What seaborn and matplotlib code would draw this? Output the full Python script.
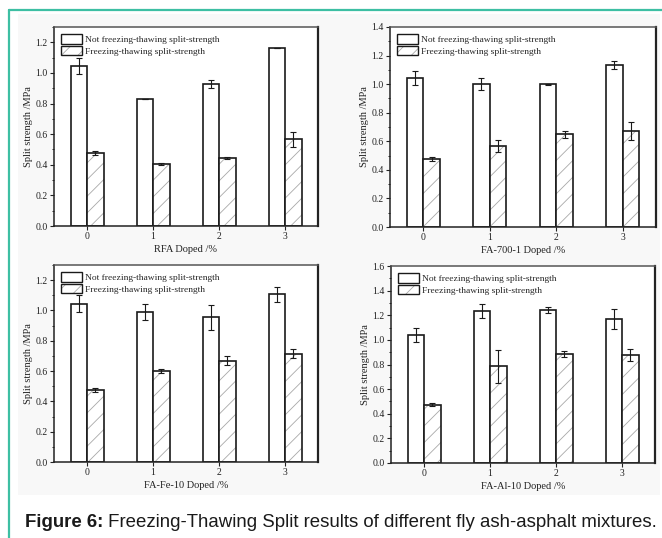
import numpy as np
import pandas as pd
import matplotlib
matplotlib.use("Agg")
import matplotlib.pyplot as plt
import matplotlib.colors as mcolors
from matplotlib.patches import Patch, Rectangle
from matplotlib.lines import Line2D
from matplotlib.ticker import MultipleLocator
from matplotlib.container import BarContainer
import seaborn as sns

# ---------------- data ----------------
doping = ["0", "1", "2", "3"]
series_names = ["Not freezing-thawing split-strength", "Freezing-thawing split-strength"]

xlabels = ["RFA Doped /%", "FA-700-1 Doped /%", "FA-Fe-10 Doped /%", "FA-Al-10 Doped /%"]
ylimits = [1.3, 1.4, 1.3, 1.6]

rfa_not = [1.045, 0.83, 0.928, 1.16]
rfa_not_err = [0.05, 0.0, 0.024, 0.0]
rfa_ft = [0.479, 0.405, 0.446, 0.567]
rfa_ft_err = [0.012, 0.005, 0.006, 0.05]

fa700_not = [1.045, 1.0, 1.0, 1.135]
fa700_not_err = [0.05, 0.042, 0.004, 0.026]
fa700_ft = [0.477, 0.567, 0.648, 0.672]
fa700_ft_err = [0.012, 0.045, 0.025, 0.064]

fafe_not = [1.045, 0.99, 0.954, 1.107]
fafe_not_err = [0.054, 0.053, 0.08, 0.048]
fafe_ft = [0.478, 0.601, 0.669, 0.715]
fafe_ft_err = [0.013, 0.012, 0.028, 0.032]

faal_not = [1.04, 1.234, 1.243, 1.17]
faal_not_err = [0.055, 0.054, 0.028, 0.078]
faal_ft = [0.475, 0.784, 0.883, 0.877]
faal_ft_err = [0.01, 0.134, 0.024, 0.05]

panels = [
    (rfa_not, rfa_not_err, rfa_ft, rfa_ft_err),
    (fa700_not, fa700_not_err, fa700_ft, fa700_ft_err),
    (fafe_not, fafe_not_err, fafe_ft, fafe_ft_err),
    (faal_not, faal_not_err, faal_ft, faal_ft_err),
]

caption_bold = "Figure 6:"
caption_rest = " Freezing-Thawing Split results of different fly ash-asphalt mixtures."

# ---------------- style ----------------
sns.set_theme(style="ticks")
plt.rcParams["font.family"] = ["Liberation Serif", "DejaVu Serif"]
plt.rcParams["hatch.linewidth"] = 0.6

W, H = 662, 538
fig = plt.figure(figsize=(W / 100, H / 100), dpi=100)
fig.patch.set_facecolor("white")

# background region of the embedded image
fig.patches.append(Rectangle((18 / W, 1 - 495 / H), (660 - 18) / W, (495 - 14) / H,
                             transform=fig.transFigure, facecolor="#f8f8f8",
                             edgecolor="none", zorder=-5))
# teal frame lines
teal = "#3dbfa3"
fig.add_artist(Line2D([9 / W, 9 / W], [0, 1 - 10 / H], color=teal, lw=1.6,
                      transform=fig.transFigure))
fig.add_artist(Line2D([9 / W, 1.0], [1 - 10 / H, 1 - 10 / H], color=teal, lw=1.6,
                      transform=fig.transFigure))

axes_px = [(54, 27, 318, 226), (390, 27, 656, 227), (54, 265, 318, 462), (391, 266, 655, 463)]

hatch_gray = mcolors.to_rgba("#a8a8a8")

for i, (ax_px, (nv, ne, fv, fe)) in enumerate(zip(axes_px, panels)):
    l, t, r, b = ax_px
    ax = fig.add_axes([l / W, 1 - b / H, (r - l) / W, (b - t) / H], zorder=2)
    ax.set_facecolor("white")
    df = pd.DataFrame({
        "doping": doping * 2,
        "series": [series_names[0]] * 4 + [series_names[1]] * 4,
        "value": list(nv) + list(fv),
    })
    sns.barplot(data=df, x="doping", y="value", hue="series", order=doping,
                hue_order=series_names, palette=["white", "white"], width=0.5,
                errorbar=None, edgecolor="#1a1a1a", linewidth=1.2, legend=False,
                saturation=1, ax=ax)
    errs = [ne, fe]
    bar_conts = [c for c in ax.containers if isinstance(c, BarContainer)]
    for k, cont in enumerate(bar_conts):
        xs = [p.get_x() + p.get_width() / 2 for p in cont.patches]
        hs = [p.get_height() for p in cont.patches]
        if k == 1:
            for p in cont.patches:
                p.set_hatch("//")
                p._hatch_color = hatch_gray
        ax.errorbar(xs, hs, yerr=errs[k], fmt="none", ecolor="#1a1a1a",
                    elinewidth=0.8, capsize=2.2, capthick=0.8, zorder=5)
    ax.set_xlim(-0.5, 3.5)
    ax.set_ylim(0, ylimits[i])
    ax.yaxis.set_major_locator(MultipleLocator(0.2))
    ax.yaxis.set_minor_locator(MultipleLocator(0.1))
    ax.yaxis.set_major_formatter(matplotlib.ticker.FormatStrFormatter("%.1f"))
    ax.tick_params(axis="both", which="major", direction="out", length=3, width=0.8,
                   labelsize=7, pad=1.5, colors="#222222")
    ax.tick_params(axis="y", which="minor", direction="out", length=1.8, width=0.7)
    ax.set_xlabel(xlabels[i], fontsize=7.5, labelpad=3, color="#222222")
    ax.set_ylabel("Split strength /MPa", fontsize=7.5, labelpad=1.5, color="#222222")
    for s in ax.spines.values():
        s.set_visible(True)
        s.set_linewidth(1.1)
        s.set_color("#222222")
    ax.spines["top"].set_color("#555555")
    ax.spines["right"].set_linewidth(1.6)

    h1 = Patch(facecolor="white", edgecolor="#1a1a1a", linewidth=1.0)
    h2 = Patch(facecolor="white", edgecolor="#1a1a1a", linewidth=1.0, hatch="//")
    h2._hatch_color = hatch_gray
    ax.legend([h1, h2], series_names, loc="upper left", frameon=False,
              fontsize=6.8, handlelength=2.2, handleheight=1.2, handletextpad=0.35,
              labelspacing=0.15, borderaxespad=0.2, borderpad=0.55)

fig.text(25 / W, 1 - 527 / H, caption_bold, fontsize=13.4, fontweight="bold",
         family="Liberation Sans", color="#1a1a1a", ha="left", va="baseline")
# place rest after the bold part
fig.canvas.draw()
r = fig.canvas.get_renderer()
tb = fig.texts[-1].get_window_extent(renderer=r)
fig.text(tb.x1 / W, 1 - 527 / H, caption_rest, fontsize=13.4,
         family="Liberation Sans", color="#1a1a1a", ha="left", va="baseline")

fig.savefig("out.png", dpi=100, facecolor="white")
